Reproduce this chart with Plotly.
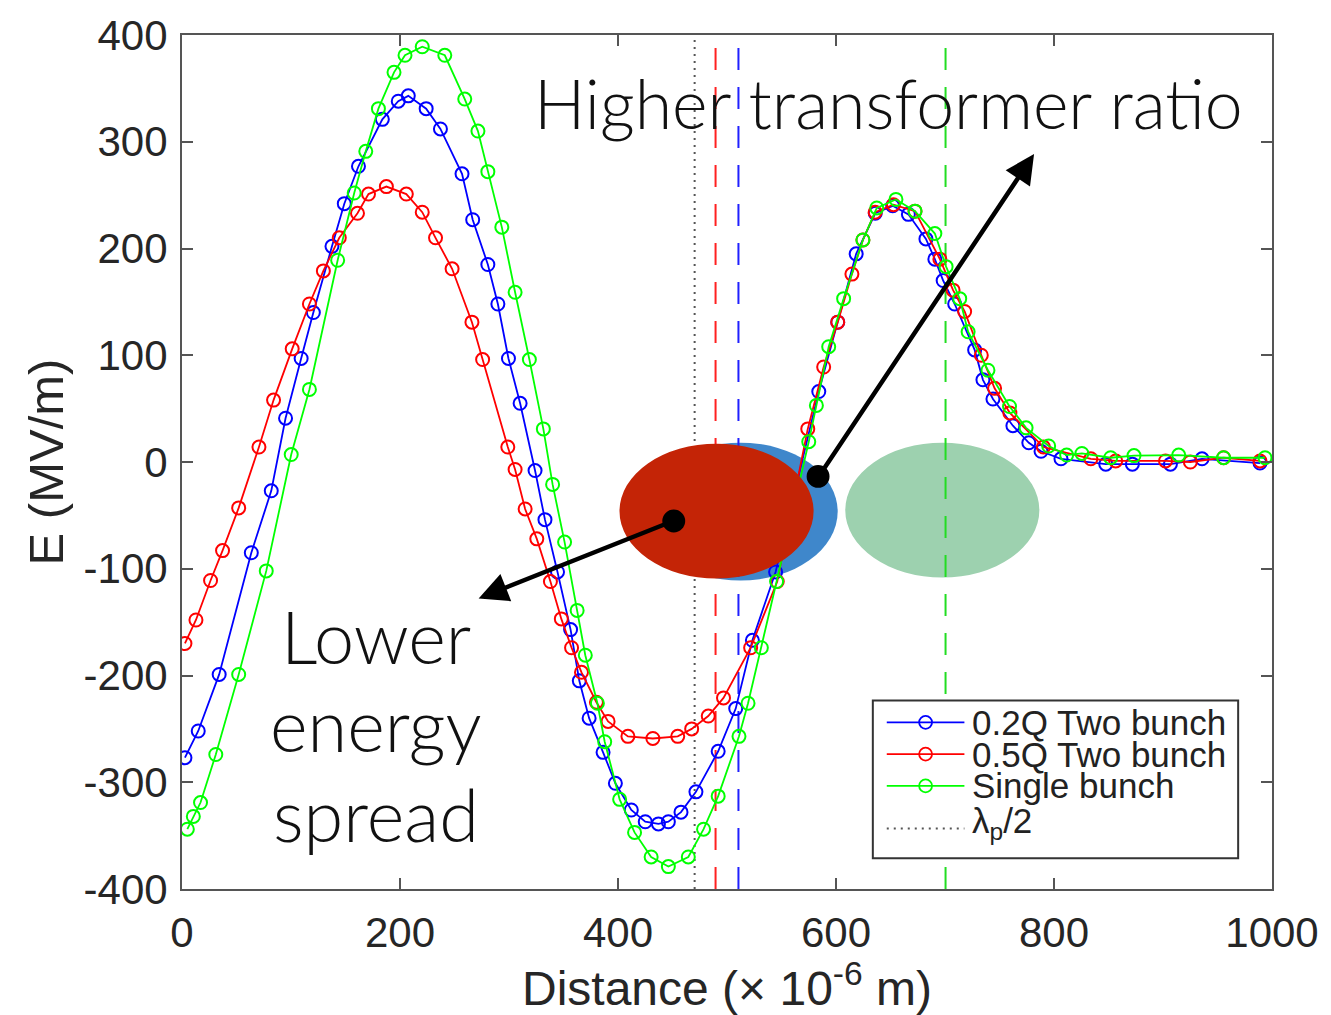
import plotly.graph_objects as go

# ---------------- data ----------------
x_blue = [2.7, 14.9, 34.1, 63.6, 81.9, 95.0, 109.3, 120.5, 137.6, 148.9, 161.9, 183.8, 198.4, 207.6,
          224.0, 237.1, 256.9, 266.7, 280.6, 289.8, 299.5, 310.2, 323.9, 333.0, 344.5, 356.5, 364.5,
          373.5, 386.3, 397.6, 412.2, 425.0, 437.1, 446.2, 457.8, 471.5, 491.9, 508.0, 523.3, 544.6,
          584.2, 601.6, 618.5, 636.0, 652.0, 666.4, 682.5, 690.7, 698.3, 708.9, 727.2, 734.8,
          744.0, 762.3, 776.9, 788.1, 806.4, 847.5, 871.9, 906.8, 935.8, 989.0]
y_blue = [-277, -252, -199, -85, -27, 41, 97, 140, 202, 242, 277, 321, 338, 343,
          331, 312, 270, 227, 185, 148, 97, 55, -8, -54, -103, -157, -205,
          -240, -272, -301, -326, -337, -339, -337, -328, -309, -271, -231, -167, -103,
          66, 131, 195, 233, 240, 232, 209, 190, 170, 148, 105, 77,
          59, 34, 18, 10, 3, -2, -2, -2, 3, -1]

x_red = [2.7, 12.8, 26.2, 37.2, 52.0, 70.6, 84.0, 101.1, 116.9, 129.7, 144.3, 161.0, 171.1, 187.5,
         205.8, 220.4, 232.6, 247.8, 266.0, 275.8, 298.9, 305.6, 314.8, 325.5, 338.0, 348.0, 357.4,
         366.5, 380.2, 390.9, 409.1, 432.0, 454.8, 467.6, 482.8, 496.8, 521.7, 546.1, 574.1, 588.7,
         601.6, 614.6, 624.7, 635.9, 652.7, 672.5, 695.3, 707.4, 718.0, 733.3, 745.5, 759.5, 790.3,
         833.8, 856.6, 902.3, 925.1, 955.6, 989.0]
y_red = [-170, -148, -111, -83, -43, 14, 58, 106, 148, 179, 210, 233, 251, 258,
         251, 234, 210, 181, 131, 96, 14, -7, -44, -72, -112, -147, -174,
         -197, -225, -243, -257, -259, -257, -250, -238, -221, -174, -112, 31, 89,
         131, 176, 208, 234, 241, 235, 190, 161, 141, 100, 69, 46, 14,
         3, 1, 1, 0, 4, 1]

x_green = [4.9, 10.4, 17.0, 31.0, 52.0, 77.3, 100.2, 116.9, 142.8, 158.0, 168.6, 180.2, 194.5, 204.6,
           220.4, 241.1, 259.4, 271.5, 280.6, 293.4, 305.6, 318.7, 331.5, 340.0, 351.0, 362.5, 370.0,
           381.1, 387.8, 401.5, 415.2, 430.4, 446.2, 464.5, 478.5, 491.9, 511.0, 519.3, 531.5, 545.5,
           575.0, 582.0, 593.3, 607.0, 624.7, 637.4, 655.0, 672.5, 690.7, 701.0, 713.5, 721.2, 739.4,
           759.2, 774.4, 795.1, 811.6, 825.6, 852.0, 873.4, 914.4, 955.6, 993.6]
y_green = [-344, -332, -319, -274, -199, -102, 7, 68, 189, 252, 291, 331, 365, 381,
           389, 381, 340, 310, 272, 220, 159, 96, 31, -21, -75, -139, -181,
           -226, -262, -316, -347, -370, -379, -370, -344, -313, -257, -226, -174, -112,
           19, 53, 108, 153, 208, 238, 246, 235, 214, 183, 153, 122, 86,
           52, 32, 15, 6.5, 8, 4, 6, 6.5, 4, 4]

lambda_half = 470.3      # λp/2 (dotted)
witness_red = 489.5      # dashed red
witness_blue = 510.5     # dashed blue
witness_green = 700.5    # dashed green

series_names = ["0.2Q Two bunch", "0.5Q Two bunch", "Single bunch", "λ<sub>p</sub>/2"]
x_ticks = [0, 200, 400, 600, 800, 1000]
y_ticks = [-400, -300, -200, -100, 0, 100, 200, 300, 400]
x_ticktext = [str(v) for v in x_ticks]
y_ticktext = [str(v) for v in y_ticks]   # plain hyphen-minus like the original

# ---------------- geometry helpers (pixel -> paper) ----------------
L, R, T, B = 182, 1277, 32, 893
def px(x):
    return (x - L) / (R - L)
def py(y):
    return (B - y) / (B - T)

FONT = "Liberation Sans, Arial, Helvetica, sans-serif"
THIN = "Lato, Open Sans, sans-serif"

fig = go.Figure()

# vertical reference lines
for xv, col, dash, w in [(lambda_half, "#555555", "2px,5px", 2),
                         (witness_red, "#ff2020", "22px,17px", 2),
                         (witness_blue, "#2020ff", "22px,17px", 2),
                         (witness_green, "#22dd22", "22px,17px", 2)]:
    fig.add_trace(go.Scatter(x=[xv, xv], y=[y_ticks[0], y_ticks[-1]], mode="lines",
                             line=dict(color=col, dash=dash, width=w),
                             showlegend=False, hoverinfo="skip"))

for xs, ys, col, name in [(x_blue, y_blue, "#0000ff", series_names[0]),
                          (x_red, y_red, "#ff0000", series_names[1]),
                          (x_green, y_green, "#00ff00", series_names[2])]:
    fig.add_trace(go.Scatter(x=xs, y=ys, mode="lines+markers", name=name,
                             line=dict(color=col, width=1.8),
                             marker=dict(symbol="circle-open", size=13, color=col,
                                         line=dict(width=2, color=col))))

shapes = []
# bunch ellipses
shapes.append(dict(type="circle", xref="paper", yref="paper", layer="below",
                   x0=px(645.7), x1=px(840.7), y0=py(582), y1=py(443),
                   fillcolor="#3f87cb", line=dict(width=0)))
shapes.append(dict(type="circle", xref="paper", yref="paper", layer="below",
                   x0=px(848.3), x1=px(1043.3), y0=py(579), y1=py(443),
                   fillcolor="#9dd1af", line=dict(width=0)))
shapes.append(dict(type="circle", xref="paper", yref="paper", layer="above",
                   x0=px(621.5), x1=px(816.5), y0=py(580), y1=py(444),
                   fillcolor="#c42406", line=dict(width=0)))
# black dots at arrow tails
for cx, cy in [(821, 477), (676, 522)]:
    r = 11.5
    shapes.append(dict(type="circle", xref="paper", yref="paper", layer="above",
                       x0=px(cx - r), x1=px(cx + r), y0=py(cy + r), y1=py(cy - r),
                       fillcolor="black", line=dict(width=0)))

# custom legend box
shapes.append(dict(type="rect", xref="paper", yref="paper", layer="above",
                   x0=px(876), x1=px(1243), y0=py(862), y1=py(703),
                   fillcolor="white", line=dict(color="#333333", width=2)))
leg_rows = [725, 757, 789]
leg_cols = ["#0000ff", "#ff0000", "#00ff00"]
annotations = []
for ry, col, name in zip(leg_rows, leg_cols, series_names[:3]):
    shapes.append(dict(type="line", xref="paper", yref="paper", layer="above",
                       x0=px(890), x1=px(968), y0=py(ry), y1=py(ry),
                       line=dict(color=col, width=1.8)))
    shapes.append(dict(type="circle", xref="paper", yref="paper", layer="above",
                       x0=px(929 - 6.5), x1=px(929 + 6.5), y0=py(ry + 6.5), y1=py(ry - 6.5),
                       line=dict(color=col, width=1.8)))
    annotations.append(dict(xref="paper", yref="paper", x=px(974), y=py(ry), text=name,
                            showarrow=False, xanchor="left", yanchor="middle",
                            font=dict(family=FONT, size=35, color="#222222")))
shapes.append(dict(type="line", xref="paper", yref="paper", layer="above",
                   x0=px(890), x1=px(968), y0=py(832), y1=py(832),
                   line=dict(color="#555555", width=2, dash="2px,5px")))
annotations.append(dict(xref="paper", yref="paper", x=px(974), y=py(826), text=series_names[3],
                        showarrow=False, xanchor="left", yanchor="middle",
                        font=dict(family=FONT, size=35, color="#222222")))

# text annotations
annotations.append(dict(xref="paper", yref="paper", x=px(892), y=py(100),
                        text="Higher transformer ratio", showarrow=False,
                        xanchor="center", yanchor="middle",
                        font=dict(family=THIN, size=68, color="#111111", weight=300)))
for txt, yy in [("Lower", 638), ("energy", 727), ("spread", 817)]:
    annotations.append(dict(xref="paper", yref="paper", x=px(377), y=py(yy),
                            text=txt, showarrow=False, xanchor="center", yanchor="middle",
                            font=dict(family=THIN, size=72, color="#111111", weight=300)))

# arrows
annotations.append(dict(xref="paper", yref="paper", x=px(1038), y=py(152), text="",
                        showarrow=True, ax=821 - 1038, ay=477 - 152,
                        arrowhead=2, arrowsize=1.3, arrowwidth=4.5, arrowcolor="black"))
annotations.append(dict(xref="paper", yref="paper", x=px(480), y=py(600), text="",
                        showarrow=True, ax=676 - 480, ay=522 - 600,
                        arrowhead=2, arrowsize=1.3, arrowwidth=4.5, arrowcolor="black"))

axis_common = dict(ticks="inside", ticklen=11, tickwidth=2, tickcolor="#555555",
                   showline=True, linecolor="#555555", linewidth=2, mirror="ticks",
                   showgrid=False, zeroline=False,
                   tickfont=dict(family=FONT, size=42, color="#262626"))

fig.update_layout(
    width=1331, height=1015,
    margin=dict(l=L, r=1331 - R, t=T, b=1015 - B),
    paper_bgcolor="white", plot_bgcolor="white",
    showlegend=False,
    shapes=shapes, annotations=annotations,
    xaxis=dict(range=[x_ticks[0], x_ticks[-1]], tickvals=x_ticks, ticktext=x_ticktext,
               title=dict(text="Distance (× 10<sup>-6</sup> m)", standoff=13,
                          font=dict(family=FONT, size=48, color="#262626")),
               ticklabelstandoff=6, **axis_common),
    yaxis=dict(range=[y_ticks[0], y_ticks[-1]], tickvals=y_ticks, ticktext=y_ticktext,
               title=dict(text="E (MV/m)", standoff=4,
                          font=dict(family=FONT, size=49, color="#262626")),
               ticklabelstandoff=4, **axis_common),
)

fig.write_html("out.html")
